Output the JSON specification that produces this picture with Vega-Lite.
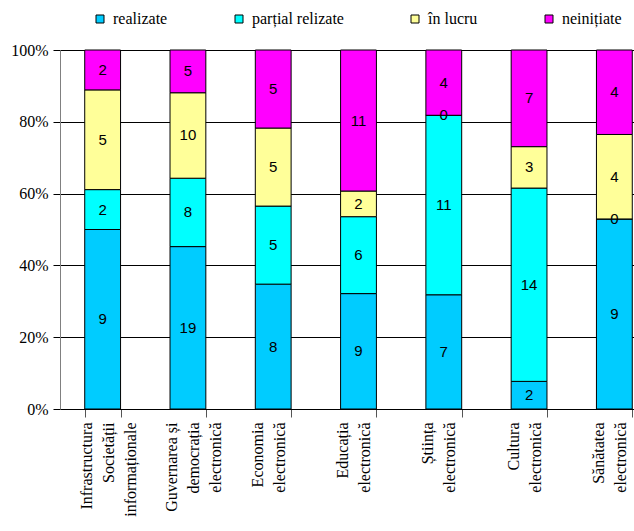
{
  "$schema": "https://vega.github.io/schema/vega-lite/v6.json",
  "width": 597,
  "height": 359,
  "autosize": {"type": "none"},
  "padding": {"left": 60, "top": 50, "right": 0, "bottom": 122},
  "background": "white",
  "config": {
    "font": "Times New Roman, Liberation Serif, serif",
    "view": {"stroke": null},
    "text": {"font": "Liberation Sans"},
    "axisY": {
      "labelFont": "Times New Roman, Liberation Serif, serif",
      "labelFontSize": 16,
      "labelColor": "black",
      "gridColor": "black",
      "gridWidth": 1,
      "domainColor": "#808080",
      "tickColor": "black",
      "tickSize": 7,
      "labelPadding": 5
    },
    "legend": {
      "labelFont": "Times New Roman, Liberation Serif, serif",
      "labelFontSize": 16,
      "labelColor": "black"
    }
  },
  "data": {
    "values": [
      {"cat": "Infrastructura|Societății|informaționale", "series": "realizate", "ord": 1, "count": 9},
      {"cat": "Infrastructura|Societății|informaționale", "series": "parțial relizate", "ord": 2, "count": 2},
      {"cat": "Infrastructura|Societății|informaționale", "series": "în lucru", "ord": 3, "count": 5},
      {"cat": "Infrastructura|Societății|informaționale", "series": "neinițiate", "ord": 4, "count": 2},
      {"cat": "Guvernarea și|democrația|electronică", "series": "realizate", "ord": 1, "count": 19},
      {"cat": "Guvernarea și|democrația|electronică", "series": "parțial relizate", "ord": 2, "count": 8},
      {"cat": "Guvernarea și|democrația|electronică", "series": "în lucru", "ord": 3, "count": 10},
      {"cat": "Guvernarea și|democrația|electronică", "series": "neinițiate", "ord": 4, "count": 5},
      {"cat": "Economia|electronică", "series": "realizate", "ord": 1, "count": 8},
      {"cat": "Economia|electronică", "series": "parțial relizate", "ord": 2, "count": 5},
      {"cat": "Economia|electronică", "series": "în lucru", "ord": 3, "count": 5},
      {"cat": "Economia|electronică", "series": "neinițiate", "ord": 4, "count": 5},
      {"cat": "Educația|electronică", "series": "realizate", "ord": 1, "count": 9},
      {"cat": "Educația|electronică", "series": "parțial relizate", "ord": 2, "count": 6},
      {"cat": "Educația|electronică", "series": "în lucru", "ord": 3, "count": 2},
      {"cat": "Educația|electronică", "series": "neinițiate", "ord": 4, "count": 11},
      {"cat": "Știința|electronică", "series": "realizate", "ord": 1, "count": 7},
      {"cat": "Știința|electronică", "series": "parțial relizate", "ord": 2, "count": 11},
      {"cat": "Știința|electronică", "series": "în lucru", "ord": 3, "count": 0},
      {"cat": "Știința|electronică", "series": "neinițiate", "ord": 4, "count": 4},
      {"cat": "Cultura|electronică", "series": "realizate", "ord": 1, "count": 2},
      {"cat": "Cultura|electronică", "series": "parțial relizate", "ord": 2, "count": 14},
      {"cat": "Cultura|electronică", "series": "în lucru", "ord": 3, "count": 3},
      {"cat": "Cultura|electronică", "series": "neinițiate", "ord": 4, "count": 7},
      {"cat": "Sănătatea|electronică", "series": "realizate", "ord": 1, "count": 9},
      {"cat": "Sănătatea|electronică", "series": "parțial relizate", "ord": 2, "count": 0},
      {"cat": "Sănătatea|electronică", "series": "în lucru", "ord": 3, "count": 4},
      {"cat": "Sănătatea|electronică", "series": "neinițiate", "ord": 4, "count": 4}
    ]
  },
  "transform": [
    {"stack": "count", "groupby": ["cat"], "sort": [{"field": "ord"}], "offset": "normalize", "as": ["y0", "y1"]}
  ],
  "encoding": {
    "x": {
      "field": "cat",
      "type": "nominal",
      "sort": ["Infrastructura|Societății|informaționale", "Guvernarea și|democrația|electronică", "Economia|electronică", "Educația|electronică", "Știința|electronică", "Cultura|electronică", "Sănătatea|electronică"],
      "scale": {"paddingInner": 0.58, "paddingOuter": 0.29},
      "axis": {
        "title": null,
        "labelExpr": "split(datum.label, '|')",
        "labelAngle": -90,
        "labelAlign": "right",
        "labelBaseline": "middle",
        "labelFont": "Liberation Serif",
        "labelFontSize": 16,
        "labelColor": "black",
        "labelLineHeight": 22,
        "labelPadding": 5,
        "labelOffset": -16,
        "tickBand": "extent",
        "tickSize": 8,
        "tickColor": "#555555",
        "domainColor": "black",
        "labelLimit": 0
      }
    }
  },
  "layer": [
    {
      "mark": {"type": "bar", "stroke": "black", "strokeWidth": 1},
      "encoding": {
        "y": {
          "field": "y0",
          "type": "quantitative",
          "scale": {"domain": [0, 1], "nice": false},
          "axis": {
            "title": null,
            "values": [0, 0.2, 0.4, 0.6, 0.8, 1],
            "format": ".0%",
            "grid": true,
            "labelFont": "Times New Roman, Liberation Serif, serif"
          }
        },
        "y2": {"field": "y1"},
        "color": {
          "field": "series",
          "type": "nominal",
          "scale": {
            "domain": ["realizate", "parțial relizate", "în lucru", "neinițiate"],
            "range": ["#00CCFF", "#00FFFF", "#FFFF99", "#FF00FF"]
          },
          "legend": {
            "title": null,
            "orient": "none",
            "legendX": 32,
            "legendY": -39,
            "direction": "horizontal",
            "symbolType": "square",
            "symbolSize": 64,
            "symbolStrokeColor": "black",
            "symbolStrokeWidth": 1,
            "labelFont": "Times New Roman, Liberation Serif, serif",
            "labelOffset": 5,
            "columnPadding": 63
          }
        }
      }
    },
    {
      "transform": [
        {"fold": ["y0", "y1"], "as": ["k", "v"]},
        {"aggregate": [{"op": "mean", "field": "v", "as": "mid"}], "groupby": ["cat", "series", "count"]}
      ],
      "mark": {"type": "text", "fontSize": 15, "color": "black", "baseline": "middle"},
      "encoding": {
        "y": {"field": "mid", "type": "quantitative"},
        "text": {"field": "count", "type": "quantitative"}
      }
    }
  ]
}
